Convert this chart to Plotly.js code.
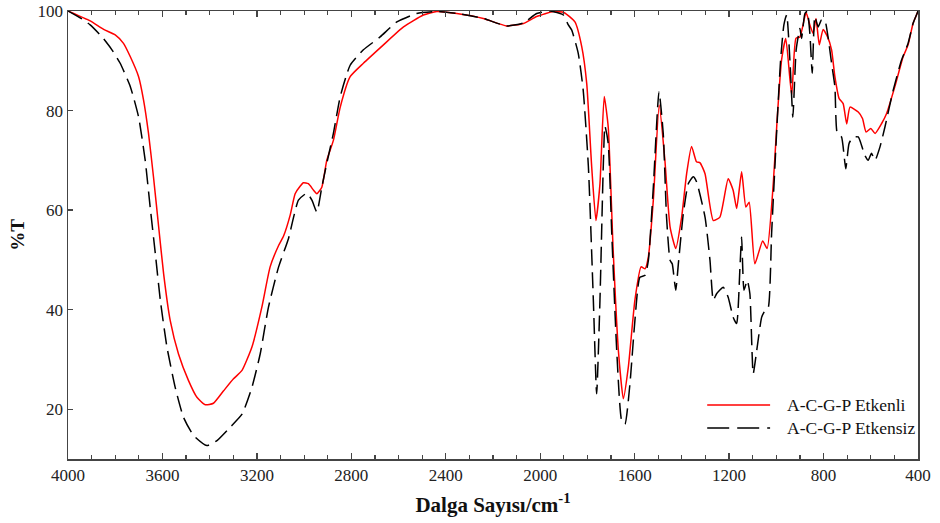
<!DOCTYPE html>
<html>
<head>
<meta charset="utf-8">
<script src="https://cdn.plot.ly/plotly-3.0.1.min.js"></script>
<style>html,body{margin:0;padding:0;background:#fff;}#chart{width:940px;height:523px;}</style>
</head>
<body>
<div id="chart"></div>
<script>
const redWave = [4000,3906,3849,3800,3765,3736,3701,3680,3659,3638,3616,3595,3567,3532,3490,3454,3419,3384,3341,3299,3263,3221,3179,3144,3108,3087,3059,3038,3017,3003,2982,2960,2946,2925,2904,2876,2847,2805,2749,2664,2579,2495,2438,2353,2241,2142,2071,2015,1944,1900,1853,1824,1803,1782,1764,1747,1729,1712,1691,1669,1648,1627,1599,1573,1556,1542,1521,1496,1472,1450,1426,1401,1380,1359,1338,1323,1302,1267,1239,1204,1183,1168,1147,1129,1115,1091,1058,1039,1013,996,978,960,935,917,900,874,858,844,832,818,802,783,766,752,734,717,702,688,653,635,620,600,582,554,533,498,463,442,421,404,400];
const redT = [100,98.0,96.3,95.2,93.5,90.8,86.8,82.1,75.4,66.7,56.6,47.2,37.8,31.1,25.8,22.4,20.9,21.2,23.7,26.1,27.8,32.5,40.5,48.6,52.9,54.8,59.0,63.3,64.8,65.5,65.3,64.0,63.3,64.6,70.0,74.0,80.7,86.8,89.5,93.2,96.8,99.2,99.9,99.5,98.5,97.0,97.5,98.9,99.9,99.7,97.8,92.8,85.4,68.7,57.9,65.3,82.8,76.7,51.9,31.8,22.1,28.4,41.9,48.6,48.2,50.6,62.0,81.1,70.0,56.6,52.3,58.6,67.3,72.8,69.7,69.5,67.3,57.9,58.6,66.3,64.0,60.3,67.7,60.6,61.6,49.2,53.8,52.3,65.3,78.7,90.1,94.5,83.1,94.5,94.8,99.7,97.2,95.5,98.5,93.2,96.3,94.8,92.2,86.8,82.4,81.4,77.3,80.7,79.7,78.4,75.7,76.4,75.4,77.4,79.4,84.8,90.8,93.2,97.5,99.5,100];

const blackWave = [4000,3934,3906,3856,3814,3779,3736,3701,3673,3652,3630,3609,3581,3546,3511,3468,3412,3369,3313,3263,3221,3186,3151,3108,3066,3045,3024,2988,2967,2946,2925,2904,2876,2847,2805,2749,2678,2607,2523,2438,2353,2241,2142,2071,2015,1958,1902,1881,1867,1839,1818,1796,1775,1761,1747,1733,1726,1712,1697,1676,1655,1641,1620,1599,1578,1556,1542,1521,1497,1479,1465,1450,1441,1426,1415,1394,1373,1352,1338,1302,1281,1267,1253,1225,1204,1183,1168,1154,1147,1137,1123,1112,1098,1083,1062,1048,1034,1020,999,982,968,956,941,930,916,900,893,879,869,858,848,837,823,809,795,781,766,752,742,724,706,692,674,653,639,625,611,597,582,561,540,505,470,442,421,404,400];
const blackT = [100,98.2,97.2,94.8,92.2,89.5,84.8,78.7,70.0,60.6,51.2,41.9,32.5,24.4,18.4,14.7,12.7,13.7,16.4,19.0,24.4,31.1,40.5,48.6,54.3,58.5,62.0,63.4,62.0,59.6,64.6,69.4,75.4,82.8,89.1,92.2,94.8,97.8,99.5,99.9,99.5,98.5,97.0,97.6,99.5,100,99.2,97.2,96.2,91.5,84.1,68.7,41.9,23.1,41.9,68.7,76.9,73.4,55.3,31.8,17.7,17.0,25.1,37.8,46.5,46.9,49.9,64.6,83.8,75.4,58.6,49.9,49.2,43.9,49.2,59.3,65.3,66.7,65.7,58.6,49.9,41.9,43.2,44.5,42.5,38.5,37.2,48.6,54.6,43.9,45.9,43.2,27.1,31.8,38.5,39.8,40.5,55.3,75.4,90.1,97.2,99.2,88.8,78.7,92.2,96.5,94.5,99.5,99.9,95.5,87.5,98.9,96.8,98.2,98.2,94.8,89.5,84.8,75.4,74.7,68.3,73.4,74.7,74.7,73.0,71.0,70.0,71.4,70.0,72.7,76.7,84.1,90.1,93.5,97.5,99.5,100];

const seriesNames = ["A-C-G-P Etkenli", "A-C-G-P Etkensiz"];
const xTicks = [4000,3600,3200,2800,2400,2000,1600,1200,800,400];
const yTicks = [20,40,60,80,100];

const serif = "Liberation Serif";

const traces = [
  {x: redWave, y: redT, name: seriesNames[0], type: 'scatter', mode: 'lines',
   line: {color: '#ff0000', width: 1.5, shape: 'spline', smoothing: 0.5}},
  {x: blackWave, y: blackT, name: seriesNames[1], type: 'scatter', mode: 'lines',
   line: {color: '#000000', width: 1.5, dash: '16px,7px', shape: 'spline', smoothing: 0.5}}
];

const layout = {
  width: 940, height: 523,
  margin: {l: 68, r: 22, t: 11, b: 64},
  paper_bgcolor: '#ffffff', plot_bgcolor: '#ffffff',
  showlegend: false,
  font: {family: serif, color: '#222222', size: 17},
  xaxis: {
    range: [4000, 400], autorange: false,
    tickvals: xTicks, ticktext: xTicks.map(String),
    ticks: 'inside', ticklen: 6, tickwidth: 1.3, tickcolor: '#444',
    minor: {dtick: 100, tick0: 0, ticks: 'inside', ticklen: 4, tickwidth: 1.2, tickcolor: '#444'},
    showline: true, linecolor: '#444', linewidth: 1.5, mirror: 'ticks',
    showgrid: false, zeroline: false,
    tickfont: {family: serif, size: 17, color: '#222'},
    title: {text: '<b>Dalga Sayısı/cm<sup>-1</sup></b>', font: {family: serif, size: 21, color: '#111'}, standoff: 13}
  },
  yaxis: {
    range: [10, 100], autorange: false,
    tickvals: yTicks, ticktext: yTicks.map(String),
    ticks: 'inside', ticklen: 5, tickwidth: 1.3, tickcolor: '#444',
    showline: true, linecolor: '#444', linewidth: 1.5, mirror: true,
    showgrid: false, zeroline: false,
    tickfont: {family: serif, size: 17, color: '#222'},
    title: {text: '<b>%T</b>', font: {family: serif, size: 19, color: '#111'}, standoff: 8}
  },
  shapes: [
    {type: 'line', xref: 'paper', yref: 'paper', x0: 0.752, x1: 0.826, y0: 0.1205, y1: 0.1205,
     line: {color: '#ff0000', width: 1.5}},
    {type: 'line', xref: 'paper', yref: 'paper', x0: 0.752, x1: 0.826, y0: 0.069, y1: 0.069,
     line: {color: '#000000', width: 1.5, dash: '22px,8px'}}
  ],
  annotations: [
    {xref: 'paper', yref: 'paper', x: 0.844, y: 0.1205, xanchor: 'left', yanchor: 'middle',
     text: seriesNames[0], showarrow: false, font: {family: serif, size: 17.5, color: '#111'}},
    {xref: 'paper', yref: 'paper', x: 0.844, y: 0.069, xanchor: 'left', yanchor: 'middle',
     text: seriesNames[1], showarrow: false, font: {family: serif, size: 17.5, color: '#111'}}
  ]
};

Plotly.newPlot('chart', traces, layout, {displayModeBar: false, staticPlot: true});
</script>
</body>
</html>
